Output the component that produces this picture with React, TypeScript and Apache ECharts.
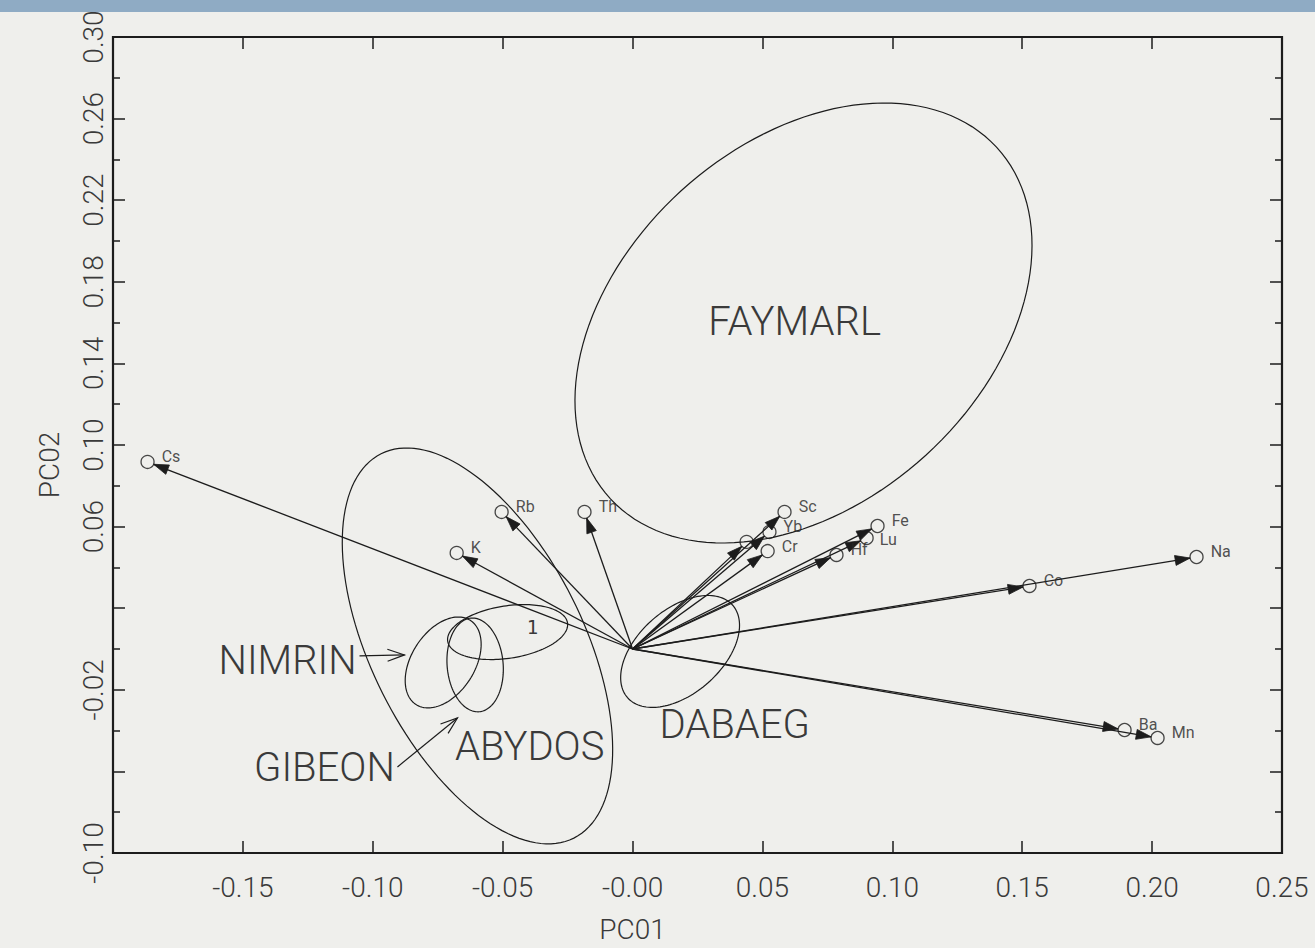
import React, { useEffect, useRef } from 'react';
import * as echarts from 'echarts';

// ---------- data ----------
const variableNames = ['Cs', 'K', 'Rb', 'Th', 'Sc', 'Yb', '', 'Cr', 'Fe', 'Lu', 'Hf', 'Co', 'Na', 'Ba', 'Mn'];
const pc1Loadings = [-0.1867, -0.0677, -0.0504, -0.0185, 0.0585, 0.0527, 0.0439, 0.052, 0.0943, 0.0901, 0.0785, 0.1528, 0.2171, 0.1894, 0.2021];
const pc2Loadings = [0.0917, 0.0471, 0.0672, 0.0672, 0.0672, 0.0574, 0.0525, 0.048, 0.0603, 0.0544, 0.0461, 0.0309, 0.0451, -0.0397, -0.0436];

// group ellipses: centre and two conjugate half-axes (data units)
const groupNames = ['FAYMARL', 'ABYDOS', 'NIMRIN', 'GIBEON', '1', 'DABAEG'];
const groupCentreX = [0.0658, -0.0597, -0.0729, -0.0606, -0.0481, 0.0183];
const groupCentreY = [0.1598, 0.0015, -0.0066, -0.0078, 0.0083, -0.0012];
const groupMajorX = [0.0743, 0.0371, 0.01045, -0.00158, 0.02306, 0.02024];
const groupMajorY = [0.0862, -0.0942, 0.02064, 0.02295, 0.0045, 0.02265];
const groupMinorX = [-0.0471, 0.0365, -0.01022, -0.01074, -0.00153, -0.01067];
const groupMinorY = [0.0648, 0.0233, 0.00839, -0.0012, 0.0127, 0.01547];

// group name annotations
const groupLabelText = ['FAYMARL', 'ABYDOS', 'DABAEG', 'NIMRIN', 'GIBEON', '1'];
const groupLabelX = [0.0624, -0.0396, 0.0393, -0.1328, -0.1186, -0.0385];
const groupLabelY = [0.1603, -0.048, -0.0368, -0.0054, -0.0583, 0.0108];

// pointer arrows from annotation to ellipse
const pointerFromX = [-0.1051, -0.0905];
const pointerFromY = [-0.0034, -0.0578];
const pointerToX = [-0.0878, -0.0674];
const pointerToY = [-0.0029, -0.0338];

// axes
const xMin = -0.2, xMax = 0.25, xStep = 0.05;
const yMin = -0.1, yMax = 0.3, yStep = 0.04;
const xTickLabels = ['', '-0.15', '-0.10', '-0.05', '-0.00', '0.05', '0.10', '0.15', '0.20', '0.25'];
const yTickLabels = ['-0.10', '', '-0.02', '', '0.06', '0.10', '0.14', '0.18', '0.22', '0.26', '0.30'];

// ---------- styles ----------
const FONT = "Roboto, 'DejaVu Sans', sans-serif";
const INK = '#1c1c1c';
const TXT = '#3a3a3a';
const PAPER = '#efefec';
const CIRCLE_R = 6.5;
const HEAD_LEN = 15;
const HEAD_HW = 5;

function buildOption(): any {
  const tickLabel = { fontFamily: FONT, fontWeight: 300, fontSize: 28, color: TXT };
  const tickLine = { color: INK, width: 1.5 };

  const arrowData = pc1Loadings.map((x, i) => [x, pc2Loadings[i]]);
  const pointData = variableNames.map((n, i) => {
    const item: any = { name: n, value: [pc1Loadings[i], pc2Loadings[i]] };
    if (n === 'Lu') item.label = { offset: [1, 1] };
    return item;
  });
  const ellipseData = groupNames.map((n, i) => [
    groupCentreX[i], groupCentreY[i], groupMajorX[i], groupMajorY[i], groupMinorX[i], groupMinorY[i],
  ]);
  const labelData = groupLabelText.map((t, i) => [groupLabelX[i], groupLabelY[i]]);
  const pointerData = pointerFromX.map((x, i) => [x, pointerFromY[i], pointerToX[i], pointerToY[i]]);

  return {
    animation: false,
    backgroundColor: PAPER,
    graphic: [
      { type: 'rect', silent: true, z: -10, shape: { x: 0, y: 0, width: 1315, height: 12 }, style: { fill: '#8fabc4' } },
    ],
    grid: { left: 113, top: 37, width: 1169, height: 816, show: true, borderColor: INK, borderWidth: 2.2 },
    xAxis: [
      {
        type: 'value', min: xMin, max: xMax, interval: xStep, position: 'bottom',
        axisLine: { show: false, onZero: false }, splitLine: { show: false },
        axisTick: { show: true, inside: true, length: 12, lineStyle: tickLine },
        axisLabel: {
          ...tickLabel, margin: 20, showMinLabel: true, showMaxLabel: true,
          formatter: (v: number) => xTickLabels[Math.round((v - xMin) / xStep)] ?? '',
        },
        name: 'PC01', nameLocation: 'middle', nameGap: 62,
        nameTextStyle: { fontFamily: FONT, fontWeight: 300, fontSize: 28, color: TXT, padding: [0, 130, 0, 0] },
      },
      {
        type: 'value', min: xMin, max: xMax, interval: xStep, position: 'top',
        axisLine: { show: false, onZero: false }, splitLine: { show: false }, axisLabel: { show: false },
        axisTick: { show: true, inside: true, length: 12, lineStyle: tickLine },
      },
    ],
    yAxis: [
      {
        type: 'value', min: yMin, max: yMax, interval: yStep, position: 'left',
        axisLine: { show: false, onZero: false }, splitLine: { show: false },
        axisTick: { show: true, inside: true, length: 12, lineStyle: tickLine },
        minorTick: { show: true, splitNumber: 2, length: 7, lineStyle: tickLine },
        axisLabel: {
          ...tickLabel, rotate: 90, margin: 6, showMinLabel: true, showMaxLabel: true,
          formatter: (v: number) => yTickLabels[Math.round((v - yMin) / yStep)] ?? '',
        },
        name: 'PC02', nameLocation: 'middle', nameGap: 50, nameRotate: 90,
        nameTextStyle: { fontFamily: FONT, fontWeight: 300, fontSize: 28, color: TXT, padding: [0, 40, 0, 0] },
      },
      {
        type: 'value', min: yMin, max: yMax, interval: yStep, position: 'right',
        axisLine: { show: false, onZero: false }, splitLine: { show: false }, axisLabel: { show: false },
        axisTick: { show: true, inside: true, length: 12, lineStyle: tickLine },
        minorTick: { show: true, splitNumber: 2, length: 7, lineStyle: tickLine },
      },
    ],
    series: [
      {
        type: 'custom', name: 'groups', xAxisIndex: 0, yAxisIndex: 0,
        data: ellipseData, encode: { x: 0, y: 1 }, silent: true, z: 2,
        renderItem: (params: any, api: any) => {
          const cx = api.value(0), cy = api.value(1);
          const c = api.coord([cx, cy]);
          const a = api.coord([cx + api.value(2), cy + api.value(3)]);
          const b = api.coord([cx + api.value(4), cy + api.value(5)]);
          const U = [a[0] - c[0], a[1] - c[1]];
          const V = [b[0] - c[0], b[1] - c[1]];
          const pts: number[][] = [];
          const steps = 144;
          for (let k = 0; k < steps; k++) {
            const t = (2 * Math.PI * k) / steps;
            pts.push([c[0] + U[0] * Math.cos(t) + V[0] * Math.sin(t), c[1] + U[1] * Math.cos(t) + V[1] * Math.sin(t)]);
          }
          return { type: 'polygon', shape: { points: pts }, style: { fill: 'none', stroke: INK, lineWidth: 1.2 } };
        },
      },
      {
        type: 'custom', name: 'vectors', xAxisIndex: 0, yAxisIndex: 0,
        data: arrowData, encode: { x: 0, y: 1 }, silent: true, z: 3,
        renderItem: (params: any, api: any) => {
          const o = api.coord([0, 0]);
          const p = api.coord([api.value(0), api.value(1)]);
          const dx = p[0] - o[0], dy = p[1] - o[1];
          const L = Math.hypot(dx, dy) || 1;
          const ux = dx / L, uy = dy / L;
          const nx = -uy, ny = ux;
          const tip = [p[0] - ux * CIRCLE_R, p[1] - uy * CIRCLE_R];
          const base = [tip[0] - ux * HEAD_LEN, tip[1] - uy * HEAD_LEN];
          return {
            type: 'group',
            children: [
              { type: 'line', shape: { x1: o[0], y1: o[1], x2: tip[0], y2: tip[1] }, style: { stroke: INK, lineWidth: 1.3 } },
              {
                type: 'polygon',
                shape: { points: [tip, [base[0] + nx * HEAD_HW, base[1] + ny * HEAD_HW], [base[0] - nx * HEAD_HW, base[1] - ny * HEAD_HW]] },
                style: { fill: INK, stroke: INK, lineWidth: 0.8 },
              },
            ],
          };
        },
      },
      {
        type: 'scatter', name: 'variables', xAxisIndex: 0, yAxisIndex: 0,
        data: pointData, symbol: 'circle', symbolSize: CIRCLE_R * 2, z: 4, silent: true,
        itemStyle: { color: 'rgba(0,0,0,0)', borderColor: INK, borderWidth: 1.3 },
        label: {
          show: true, position: 'right', distance: 5, offset: [2, -5], formatter: '{b}',
          fontFamily: FONT, fontSize: 16, color: '#262626',
        },
      },
      {
        type: 'custom', name: 'groupLabels', xAxisIndex: 0, yAxisIndex: 0,
        data: labelData, encode: { x: 0, y: 1 }, silent: true, z: 5,
        renderItem: (params: any, api: any) => {
          const p = api.coord([api.value(0), api.value(1)]);
          const txt = groupLabelText[params.dataIndex];
          const small = txt === '1';
          return {
            type: 'text', x: p[0], y: p[1],
            style: {
              text: txt, fill: TXT, align: 'center', verticalAlign: 'middle',
              fontFamily: small ? "'DejaVu Sans Mono', monospace" : FONT,
              fontWeight: small ? 400 : 300, fontSize: small ? 19 : 40,
            },
          };
        },
      },
      {
        type: 'custom', name: 'pointers', xAxisIndex: 0, yAxisIndex: 0,
        data: pointerData, encode: { x: [0, 2], y: [1, 3] }, silent: true, z: 5,
        renderItem: (params: any, api: any) => {
          const a = api.coord([api.value(0), api.value(1)]);
          const b = api.coord([api.value(2), api.value(3)]);
          const dx = b[0] - a[0], dy = b[1] - a[1];
          const L = Math.hypot(dx, dy) || 1;
          const ux = dx / L, uy = dy / L, nx = -uy, ny = ux;
          const hl = 17, hw = 6;
          const base = [b[0] - ux * hl, b[1] - uy * hl];
          return {
            type: 'group',
            children: [
              { type: 'line', shape: { x1: a[0], y1: a[1], x2: b[0], y2: b[1] }, style: { stroke: INK, lineWidth: 1.2 } },
              {
                type: 'polyline',
                shape: { points: [[base[0] + nx * hw, base[1] + ny * hw], b, [base[0] - nx * hw, base[1] - ny * hw]] },
                style: { stroke: INK, lineWidth: 1.2, fill: 'none' },
              },
            ],
          };
        },
      },
    ],
  };
}

export default function App() {
  const ref = useRef<HTMLDivElement>(null);
  useEffect(() => {
    if (!ref.current) return;
    const chart = echarts.init(ref.current, null, { renderer: 'svg' });
    chart.setOption(buildOption());
    return () => chart.dispose();
  }, []);
  return (
    <div
      ref={ref}
      style={{ position: 'fixed', left: 0, top: 0, width: 1315, height: 948, background: PAPER }}
    />
  );
}
